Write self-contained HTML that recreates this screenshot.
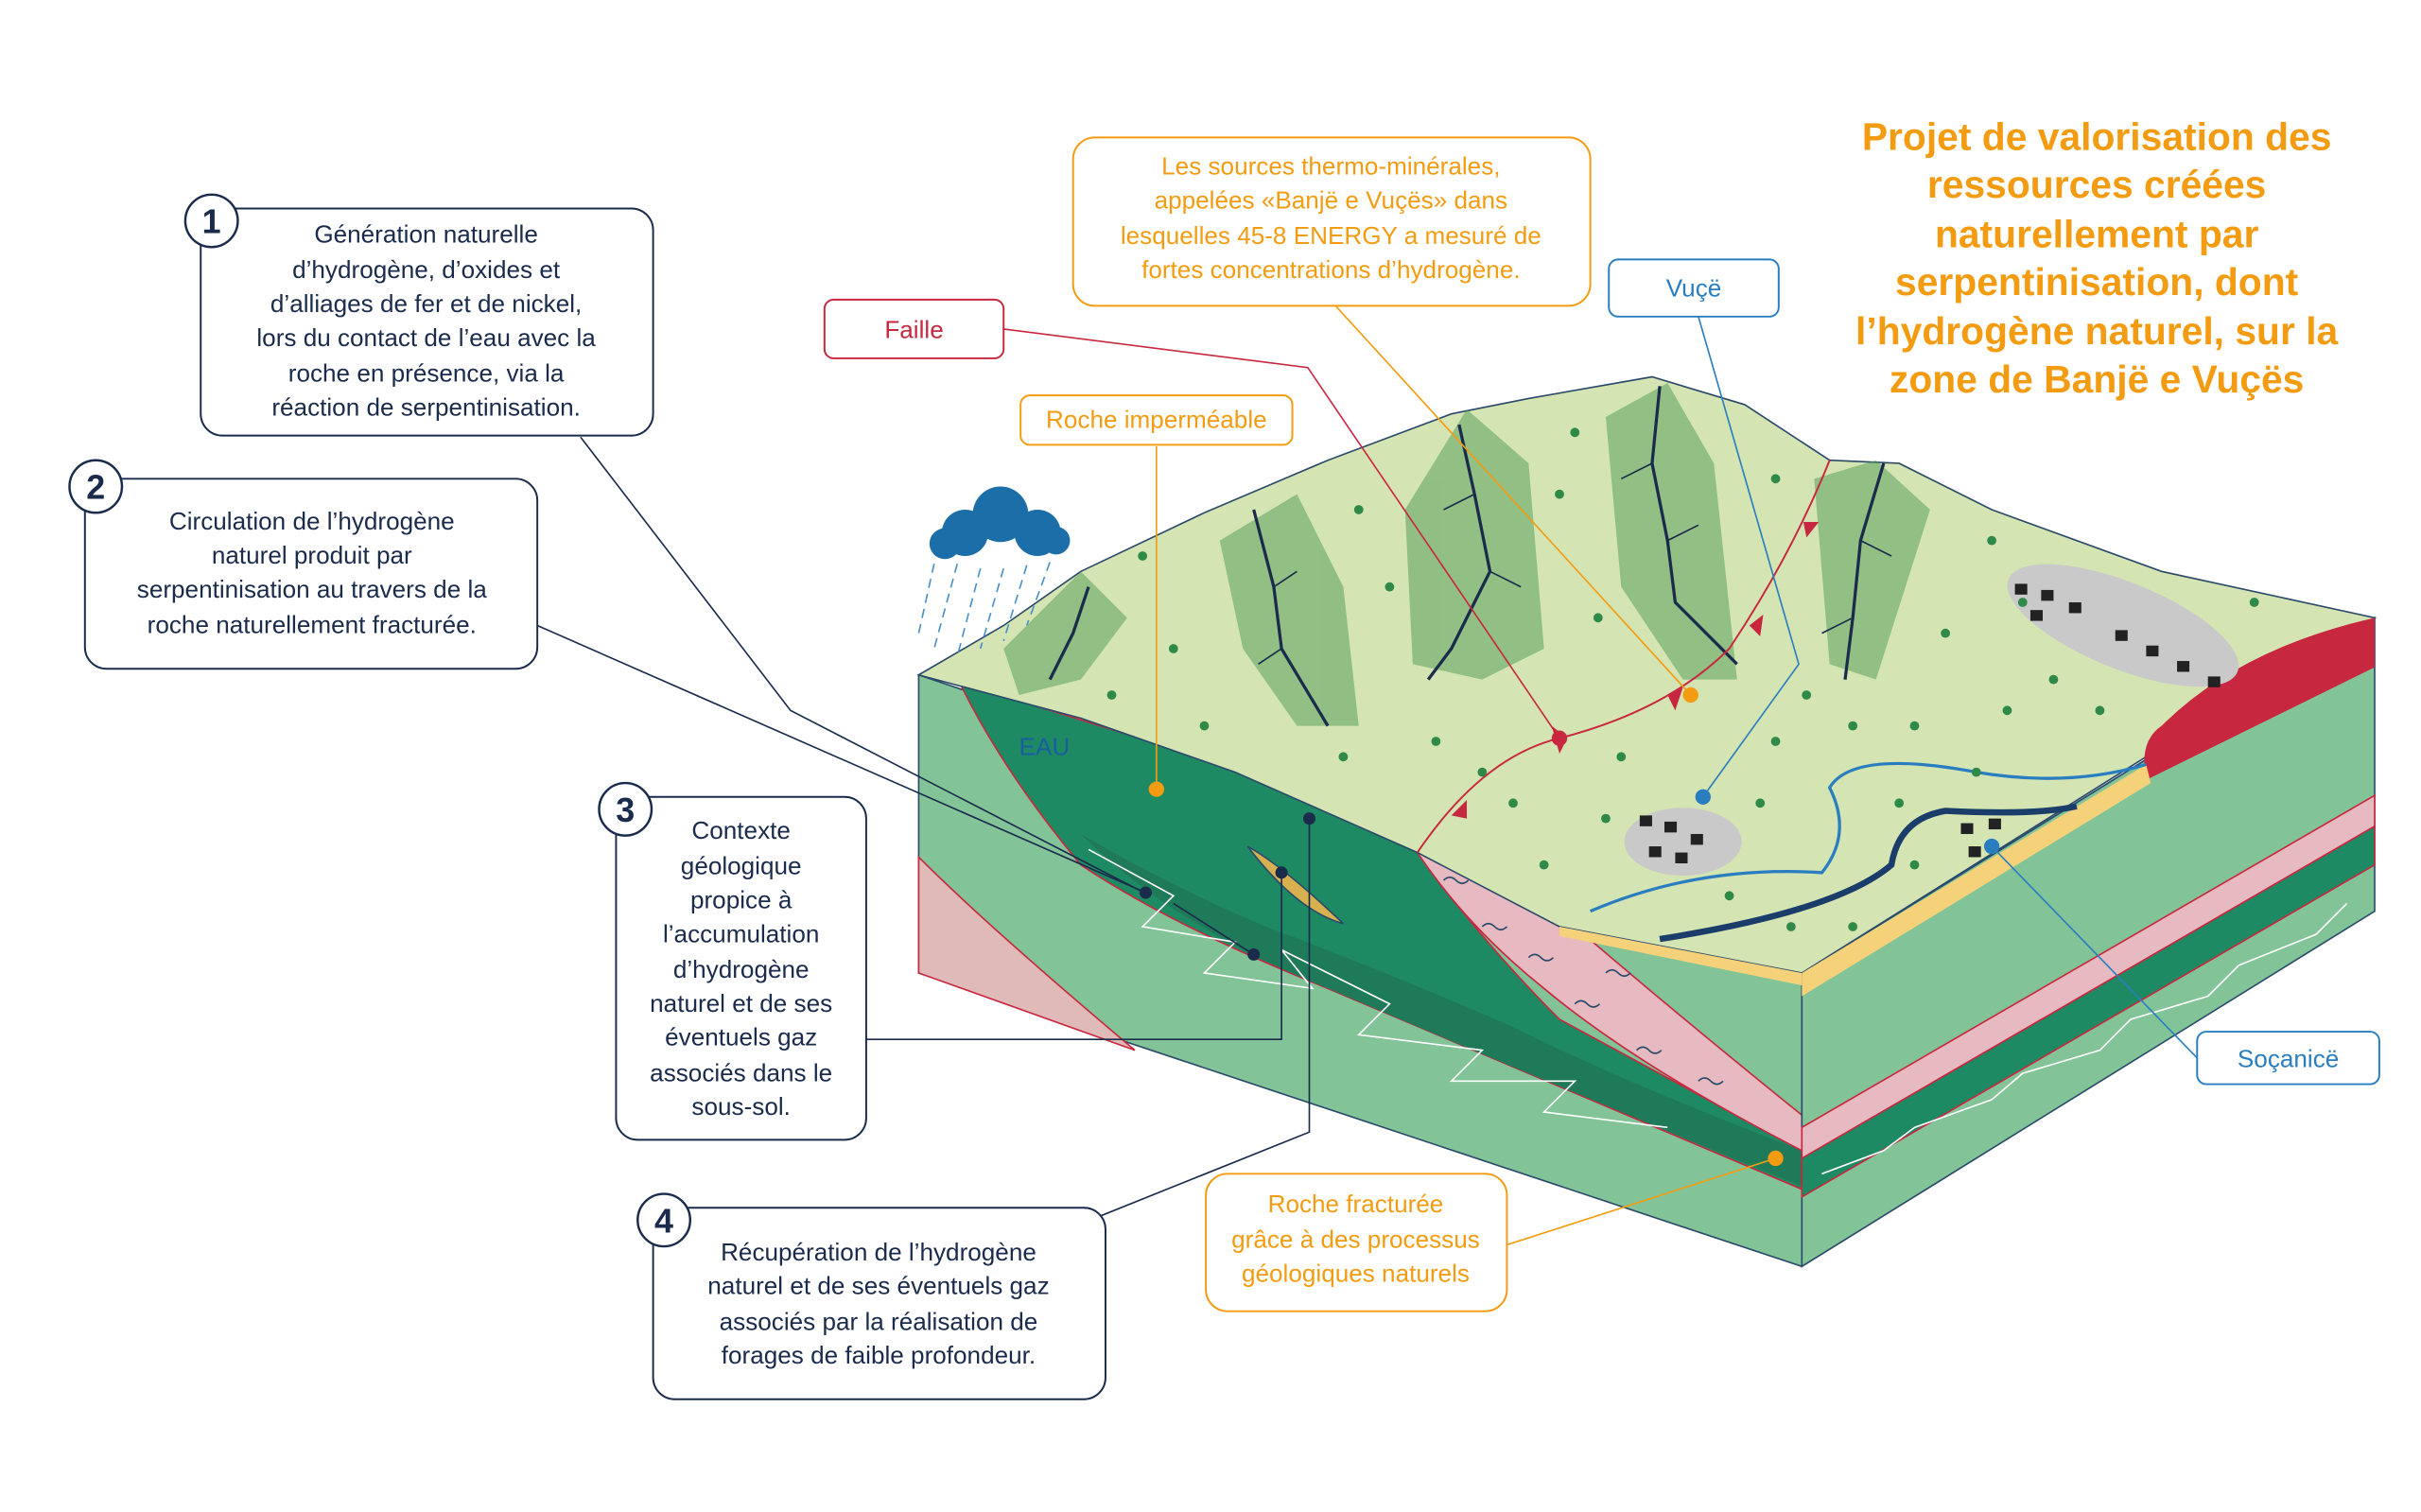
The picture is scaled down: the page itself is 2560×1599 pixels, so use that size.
<!DOCTYPE html>
<html><head><meta charset="utf-8"><style>
html,body{margin:0;padding:0;background:#fff;}
svg{display:block;}
text{font-family:"Liberation Sans",sans-serif;}
</style></head><body>
<svg width="2560" height="1599" viewBox="0 0 1568 979" preserveAspectRatio="none" xmlns="http://www.w3.org/2000/svg">
<rect width="1568" height="979" fill="#fff"/>
<polygon points="595,437 1167,630 1167,820 595,630" fill="#82c497" stroke="#2a4a6a" stroke-width="1"/>
<path d="M595,555 Q640,600 735,680 L595,630 Z" fill="#e0b9b9" stroke="#c8283f" stroke-width="1"/>
<path d="M622,443 Q700,465 790,495 Q860,515 918,552 Q960,610 1010,660 L1167,745 L1167,770 Q1000,700 860,640 Q760,600 700,560 Q650,500 622,443 Z" fill="#1e8a63" stroke="#c8283f" stroke-width="1"/>
<path d="M700,540 Q760,600 860,640 Q1000,700 1167,768 L1167,745 Q1050,700 980,665 Q900,630 820,600 Q760,575 700,540 Z" fill="#1f7a5a"/>
<path d="M705,550 L760,580 L740,600 L800,610 L780,630 L850,640 L830,615 L900,650 L880,670 L960,680 L940,700 L1020,700 L1000,720 L1080,730" fill="none" stroke="#fff" stroke-width="1"/>
<path d="M918,552 Q960,570 1020,600 Q1090,660 1167,722 L1167,745 Q1060,690 1000,640 Q950,600 918,552 Z" fill="#e7b9c0" stroke="#c8283f" stroke-width="1"/>
<path d="M935,570 q4,-4 8,0 t8,0 M960,600 q4,-4 8,0 t8,0 M990,620 q4,-4 8,0 t8,0 M1020,650 q4,-4 8,0 t8,0 M1060,680 q4,-4 8,0 t8,0 M1100,700 q4,-4 8,0 t8,0 M990,590 q4,-4 8,0 t8,0 M1040,630 q4,-4 8,0 t8,0" stroke="#2a4a6a" fill="none" stroke-width="1"/>
<path d="M808,548 Q830,560 870,598 Q840,590 808,548 Z" fill="#d7b050" stroke="#2a4a6a" stroke-width="1"/>
<polygon points="1167,630 1538,400 1538,590 1167,820" fill="#82c497" stroke="#2a4a6a" stroke-width="1"/>
<polygon points="1167,730 1538,515 1538,535 1167,750" fill="#e7b9c0" stroke="#c8283f" stroke-width="1"/>
<polygon points="1167,750 1538,535 1538,560 1167,775" fill="#1e8a63" stroke="#c8283f" stroke-width="1"/>
<path d="M1180,760 L1220,745 L1240,730 L1290,712 L1310,695 L1360,680 L1380,660 L1430,645 L1450,625 L1500,605 L1520,585" stroke="#fff" fill="none" stroke-width="1"/>
<polygon points="595,437 650,405 700,370 780,332 860,298 940,268 990,258 1070,244 1130,262 1185,298 1230,300 1290,330 1400,370 1538,400 1390,490 1167,630 1010,600 918,552 800,500 700,465" fill="#d4e4b2" stroke="#2a4a6a" stroke-width="1"/>
<path d="M1538,400 L1538,432 L1390,505 Q1385,480 1400,470 Q1450,420 1538,400 Z" fill="#c8283f"/>
<path d="M1167,630 L1390,495 L1393,507 L1167,645 Z" fill="#f5d27a"/>
<path d="M1010,600 L1167,630 L1167,638 L1010,606 Z" fill="#f5d27a"/>
<g fill="#4e9a55" opacity="0.5">
<path d="M650,420 L700,370 L730,400 L700,440 L660,450 Z"/>
<path d="M790,350 L840,320 L870,380 L880,470 L840,470 L805,420 Z"/>
<path d="M910,330 L950,265 L990,300 L1000,420 L960,440 L915,430 Z"/>
<path d="M1040,270 L1080,248 L1110,300 L1125,440 L1090,440 L1050,380 Z"/>
<path d="M1175,310 L1215,298 L1250,330 L1215,440 L1185,430 Z"/>
</g>
<g stroke="#1a2b4c" stroke-width="2" fill="none">
<path d="M705,380 L695,410 L680,440"/><path d="M812,330 L825,380 L830,420 L860,470"/>
<path d="M945,275 L955,320 L965,370 L940,420 L925,440"/><path d="M1075,250 L1070,300 L1080,350 L1085,390 L1125,430"/>
<path d="M1220,300 L1205,350 L1200,400 L1195,440"/>
</g>
<g stroke="#1a2b4c" stroke-width="1" fill="none">
<path d="M825,380 L840,370 M830,420 L815,430 M955,320 L935,330 M965,370 L985,380 M1080,350 L1100,340 M1070,300 L1050,310 M1205,350 L1225,360 M1200,400 L1180,410"/>
</g>
<path d="M1030,590 Q1100,560 1180,565 Q1200,540 1185,510 Q1200,485 1280,500 Q1340,510 1390,495" fill="none" stroke="#2a7ec0" stroke-width="2"/>
<path d="M1075,608 Q1190,590 1225,560 Q1230,530 1260,525 Q1320,528 1345,522" fill="none" stroke="#1a3d6a" stroke-width="4"/>
<path d="M918,552 Q960,490 1010,478 Q1080,460 1120,420 Q1160,360 1185,298" fill="none" stroke="#c8283f" stroke-width="1.2"/>
<polygon points="940,528 950,518 950,530" fill="#c8283f"/><polygon points="1005,470 1015,478 1010,488" fill="#c8283f"/>
<polygon points="1080,450 1090,445 1085,460" fill="#c8283f"/><polygon points="1133,405 1142,398 1140,412" fill="#c8283f"/>
<polygon points="1168,338 1178,338 1170,348" fill="#c8283f"/>
<ellipse cx="1090" cy="545" rx="38" ry="22" fill="#c9c9c9"/>
<ellipse cx="1375" cy="405" rx="80" ry="28" fill="#c9c9c9" transform="rotate(22 1375 405)"/>
<g fill="#222">
<rect x="1062" y="528" width="8" height="7"/><rect x="1078" y="532" width="8" height="7"/><rect x="1095" y="540" width="8" height="7"/><rect x="1068" y="548" width="8" height="7"/><rect x="1085" y="552" width="8" height="7"/>
<rect x="1305" y="378" width="8" height="7"/><rect x="1322" y="382" width="8" height="7"/><rect x="1340" y="390" width="8" height="7"/><rect x="1315" y="395" width="8" height="7"/><rect x="1370" y="408" width="8" height="7"/><rect x="1390" y="418" width="8" height="7"/><rect x="1410" y="428" width="8" height="7"/><rect x="1430" y="438" width="8" height="7"/>
<rect x="1270" y="533" width="8" height="7"/><rect x="1288" y="530" width="8" height="7"/><rect x="1275" y="548" width="8" height="7"/>
</g>
<g fill="#2f8a4a">
<circle cx="760" cy="420" r="3"/><circle cx="900" cy="380" r="3"/><circle cx="930" cy="480" r="3"/><circle cx="980" cy="520" r="3"/><circle cx="1050" cy="490" r="3"/><circle cx="1150" cy="480" r="3"/><circle cx="1200" cy="470" r="3"/><circle cx="1260" cy="410" r="3"/><circle cx="1300" cy="460" r="3"/><circle cx="1330" cy="440" r="3"/><circle cx="1360" cy="460" r="3"/><circle cx="1240" cy="560" r="3"/><circle cx="1160" cy="600" r="3"/><circle cx="1120" cy="580" r="3"/><circle cx="1290" cy="350" r="3"/><circle cx="880" cy="330" r="3"/><circle cx="1010" cy="320" r="3"/><circle cx="1150" cy="310" r="3"/>
<circle cx="720" cy="450" r="3"/><circle cx="780" cy="470" r="3"/><circle cx="870" cy="490" r="3"/><circle cx="960" cy="500" r="3"/><circle cx="1000" cy="560" r="3"/><circle cx="1040" cy="530" r="3"/><circle cx="1140" cy="520" r="3"/><circle cx="1170" cy="450" r="3"/><circle cx="1240" cy="470" r="3"/><circle cx="1280" cy="500" r="3"/><circle cx="1310" cy="390" r="3"/><circle cx="1460" cy="390" r="3"/><circle cx="1230" cy="520" r="3"/><circle cx="1200" cy="600" r="3"/><circle cx="1035" cy="400" r="3"/><circle cx="1020" cy="280" r="3"/><circle cx="740" cy="360" r="3"/>
</g>
<g fill="#1b6ea8"><circle cx="625" cy="345" r="15"/><circle cx="648" cy="333" r="18"/><circle cx="672" cy="345" r="15"/><circle cx="612" cy="352" r="10"/><circle cx="684" cy="350" r="9"/></g>
<g stroke="#4a90c8" stroke-width="1" stroke-dasharray="6,4"><line x1="605" y1="365" x2="595" y2="410"/><line x1="620" y1="365" x2="605" y2="420"/><line x1="635" y1="368" x2="620" y2="425"/><line x1="650" y1="368" x2="635" y2="420"/><line x1="665" y1="366" x2="650" y2="415"/><line x1="680" y1="364" x2="665" y2="405"/></g>
<text x="660" y="489" font-size="16" fill="#1b5ea0">EAU</text>
<g fill="none" stroke-width="1">
<polyline points="376,283 512,460 745,580" stroke="#1a2b4c"/>
<polyline points="348,405 742,578" stroke="#1a2b4c"/>
<polyline points="561,673 830,673 830,565" stroke="#1a2b4c"/>
<polyline points="706,790 848,733 848,530" stroke="#1a2b4c"/>
<polyline points="812,618 760,585" stroke="#1a2b4c"/>
<polyline points="650,213 847,238 1010,478" stroke="#c8283f"/>
<polyline points="749,289 749,511" stroke="#f39c12"/>
<polyline points="865,198 1095,450" stroke="#f39c12"/>
<polyline points="976,806 1150,750" stroke="#f39c12"/>
<polyline points="1100,205 1165,430 1103,516" stroke="#2a7ec0"/>
<polyline points="1423,685 1290,548" stroke="#2a7ec0"/>
</g>
<g><circle cx="742" cy="578" r="4" fill="#1a2b4c"/><circle cx="812" cy="618" r="4" fill="#1a2b4c"/><circle cx="830" cy="565" r="4" fill="#1a2b4c"/><circle cx="848" cy="530" r="4" fill="#1a2b4c"/>
<circle cx="749" cy="511" r="5" fill="#f39c12"/><circle cx="1095" cy="450" r="5" fill="#f39c12"/><circle cx="1150" cy="750" r="5" fill="#f39c12"/>
<circle cx="1103" cy="516" r="5" fill="#2a7ec0"/><circle cx="1290" cy="548" r="5" fill="#2a7ec0"/><circle cx="1010" cy="478" r="5" fill="#c8283f"/></g>
<g fill="#fff" stroke-width="1.2">
<rect x="130" y="135" width="293" height="147" rx="14" stroke="#1a2b4c"/>
<rect x="55" y="310" width="293" height="123" rx="14" stroke="#1a2b4c"/>
<rect x="399" y="516" width="162" height="222" rx="14" stroke="#1a2b4c"/>
<rect x="423" y="782" width="293" height="124" rx="14" stroke="#1a2b4c"/>
<rect x="695" y="89" width="335" height="109" rx="14" stroke="#f39c12"/>
<rect x="534" y="194" width="116" height="38" rx="6" stroke="#c8283f"/>
<rect x="661" y="256" width="176" height="32" rx="6" stroke="#f39c12"/>
<rect x="1042" y="168" width="110" height="37" rx="6" stroke="#2a7ec0"/>
<rect x="1423" y="668" width="118" height="34" rx="6" stroke="#2a7ec0"/>
<rect x="781" y="760" width="195" height="89" rx="14" stroke="#f39c12"/>
</g>
<g fill="#fff" stroke="#1a2b4c" stroke-width="1.5">
<circle cx="137" cy="143" r="17"/><circle cx="62" cy="315" r="17"/><circle cx="405" cy="524" r="17"/><circle cx="430" cy="790" r="17"/></g>
<g font-size="22" font-weight="bold" fill="#1a2b4c" text-anchor="middle">
<text x="137" y="151">1</text><text x="62" y="323">2</text><text x="405" y="532">3</text><text x="430" y="798">4</text></g>
<g font-size="16" fill="#1a2b4c" text-anchor="middle">
<text x="276" y="157">Génération naturelle</text><text x="276" y="180">d’hydrogène, d’oxides et</text><text x="276" y="202">d’alliages de fer et de nickel,</text><text x="276" y="224">lors du contact de l’eau avec la</text><text x="276" y="247">roche en présence, via la</text><text x="276" y="269">réaction de serpentinisation.</text>
<text x="202" y="343">Circulation de l’hydrogène</text><text x="202" y="365">naturel produit par</text><text x="202" y="387">serpentinisation au travers de la</text><text x="202" y="410">roche naturellement fracturée.</text>
<text x="480" y="543">Contexte</text><text x="480" y="566">géologique</text><text x="480" y="588">propice à</text><text x="480" y="610">l’accumulation</text><text x="480" y="633">d’hydrogène</text><text x="480" y="655">naturel et de ses</text><text x="480" y="677">éventuels gaz</text><text x="480" y="700">associés dans le</text><text x="480" y="722">sous-sol.</text>
<text x="569" y="816">Récupération de l’hydrogène</text><text x="569" y="838">naturel et de ses éventuels gaz</text><text x="569" y="861">associés par la réalisation de</text><text x="569" y="883">forages de faible profondeur.</text>
</g>
<g font-size="16" fill="#f39c12" text-anchor="middle">
<text x="862" y="113">Les sources thermo-minérales,</text><text x="862" y="135">appelées «Banjë e Vuçës» dans</text><text x="862" y="158">lesquelles 45-8 ENERGY a mesuré de</text><text x="862" y="180">fortes concentrations d’hydrogène.</text>
<text x="749" y="277">Roche imperméable</text>
<text x="878" y="785">Roche fracturée</text><text x="878" y="808">grâce à des processus</text><text x="878" y="830">géologiques naturels</text>
</g>
<text x="592" y="219" font-size="16" fill="#c8283f" text-anchor="middle">Faille</text>
<text x="1097" y="192" font-size="16" fill="#2a7ec0" text-anchor="middle">Vuçë</text>
<text x="1482" y="691" font-size="16" fill="#2a7ec0" text-anchor="middle">Soçanicë</text>
<g font-size="25" font-weight="bold" fill="#f39c12" text-anchor="middle">
<text x="1358" y="97">Projet de valorisation des</text><text x="1358" y="128">ressources créées</text><text x="1358" y="160">naturellement par</text><text x="1358" y="191">serpentinisation, dont</text><text x="1358" y="223">l’hydrogène naturel, sur la</text><text x="1358" y="254">zone de Banjë e Vuçës</text>
</g>
</svg>
</body></html>
